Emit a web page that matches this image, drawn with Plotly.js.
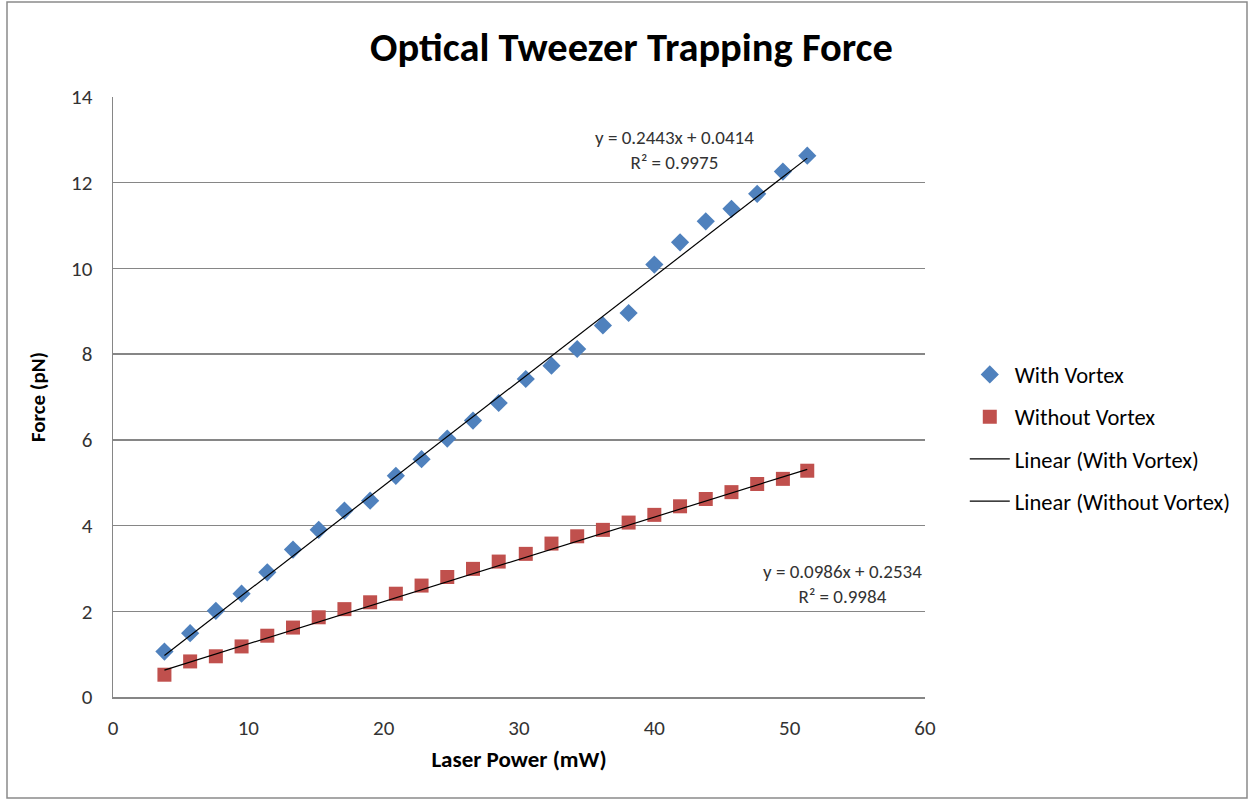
<!DOCTYPE html>
<html>
<head>
<meta charset="utf-8">
<script src="https://cdn.plot.ly/plotly-3.0.1.min.js"></script>
<style>
  html, body { margin: 0; padding: 0; background: #ffffff; }
  #chart { width: 1248px; height: 799px; }
</style>
</head>
<body>
<div id="chart"></div>
<script>
// ---- Data ----
var laserPower = [3.8, 5.7, 7.6, 9.5, 11.4, 13.3, 15.2, 17.1, 19.0, 20.9, 22.8, 24.7, 26.6,
                  28.5, 30.5, 32.4, 34.3, 36.2, 38.1, 40.0, 41.9, 43.8, 45.7, 47.6, 49.5, 51.3];
var forceWithVortex = [1.06, 1.49, 2.01, 2.41, 2.91, 3.44, 3.90, 4.35, 4.58, 5.16, 5.55, 6.03, 6.45,
                       6.86, 7.42, 7.73, 8.12, 8.67, 8.96, 10.09, 10.61, 11.10, 11.39, 11.74, 12.26, 12.63];
var forceWithoutVortex = [0.52, 0.83, 0.95, 1.18, 1.43, 1.62, 1.86, 2.05, 2.21, 2.41, 2.60, 2.80, 2.99,
                          3.16, 3.34, 3.58, 3.75, 3.90, 4.07, 4.25, 4.45, 4.62, 4.78, 4.97, 5.09, 5.28];
var seriesNames = ["With Vortex", "Without Vortex", "Linear (With Vortex)", "Linear (Without Vortex)"];
var fitWith = [0.2443, 0.0414];      // slope, intercept
var fitWithout = [0.0986, 0.2534];
var r2With = "0.9975";
var r2Without = "0.9984";
var xTicks = [0, 10, 20, 30, 40, 50, 60];
var yTicks = [0, 2, 4, 6, 8, 10, 12, 14];

var FONT = "Carlito, Calibri, 'Liberation Sans Narrow', 'Open Sans', sans-serif";

function fitLine(slope, intercept) {
  var xmin = Math.min.apply(null, laserPower);
  var xmax = Math.max.apply(null, laserPower);
  return { x: [xmin, xmax], y: [slope * xmin + intercept, slope * xmax + intercept] };
}
var lw = fitLine(fitWith[0], fitWith[1]);
var lwo = fitLine(fitWithout[0], fitWithout[1]);

var traces = [
  { type: "scatter", mode: "markers", name: seriesNames[0], legendgroup: "a",
    x: laserPower, y: forceWithVortex,
    marker: { symbol: "diamond", size: 14, color: "#4F81BD" } },
  { type: "scatter", mode: "markers", name: seriesNames[1], legendgroup: "b",
    x: laserPower, y: forceWithoutVortex,
    marker: { symbol: "square", size: 14, color: "#C0504D" } },
  { type: "scatter", mode: "lines", name: seriesNames[2], legendgroup: "c",
    x: lw.x, y: lw.y, line: { color: "#000000", width: 1.2 } },
  { type: "scatter", mode: "lines", name: seriesNames[3], legendgroup: "d",
    x: lwo.x, y: lwo.y, line: { color: "#000000", width: 1.2 } }
];

function fmt(n) { return n.toFixed(4); }

var layout = {
  width: 1248, height: 799,
  paper_bgcolor: "#ffffff", plot_bgcolor: "#ffffff",
  margin: { l: 113, r: 323, t: 97, b: 102 },
  font: { family: FONT, color: "#000000" },
  title: { text: "<b>Optical Tweezer Trapping Force</b>", x: 0.506, xanchor: "center",
           y: 0.941, yanchor: "middle", font: { family: FONT, size: 40.5, color: "#000000" } },
  xaxis: {
    range: [0, 60], tickvals: xTicks, showgrid: false, zeroline: false,
    showline: true, linecolor: "#868686", linewidth: 1.5,
    ticks: "", ticklabelstandoff: 11,
    tickfont: { family: FONT, size: 21, color: "#333333" },
    title: { text: "<b>Laser Power (mW)</b>", standoff: 11,
             font: { family: FONT, size: 23, color: "#000000" } }
  },
  yaxis: {
    range: [0, 14], tickvals: yTicks, showgrid: true, gridcolor: "#868686", gridwidth: 1.5,
    zeroline: false, showline: true, linecolor: "#868686", linewidth: 1.5,
    ticks: "", ticklabelstandoff: 15,
    tickfont: { family: FONT, size: 21, color: "#333333" },
    title: { text: "<b>Force (pN)</b>", standoff: 19,
             font: { family: FONT, size: 21, color: "#000000" } }
  },
  showlegend: true,
  legend: {
    x: 1.049, xanchor: "left", y: 0.432, yanchor: "middle",
    traceorder: "grouped", tracegroupgap: 10,
    font: { family: FONT, size: 22.5, color: "#000000" },
    bgcolor: "rgba(0,0,0,0)", borderwidth: 0, itemwidth: 40
  },
  annotations: [
    { xref: "x", yref: "y", x: 41.5, y: 12.77, showarrow: false, align: "center",
      text: "y = " + fmt(fitWith[0]) + "x + " + fmt(fitWith[1]) + "<br>R² = " + r2With,
      font: { family: FONT, size: 19, color: "#333333" } },
    { xref: "x", yref: "y", x: 53.9, y: 2.64, showarrow: false, align: "center",
      text: "y = " + fmt(fitWithout[0]) + "x + " + fmt(fitWithout[1]) + "<br>R² = " + r2Without,
      font: { family: FONT, size: 19, color: "#333333" } }
  ],
  shapes: [
    { type: "rect", xref: "paper", yref: "paper",
      x0: (7 - 113) / 812, x1: (1247 - 113) / 812,
      y0: (697 - 798) / 600, y1: (697 - 2) / 600,
      line: { color: "#8a8a8a", width: 1.5 }, fillcolor: "rgba(0,0,0,0)", layer: "below" }
  ]
};

Plotly.newPlot("chart", traces, layout, { displayModeBar: false, staticPlot: true });
</script>
</body>
</html>
